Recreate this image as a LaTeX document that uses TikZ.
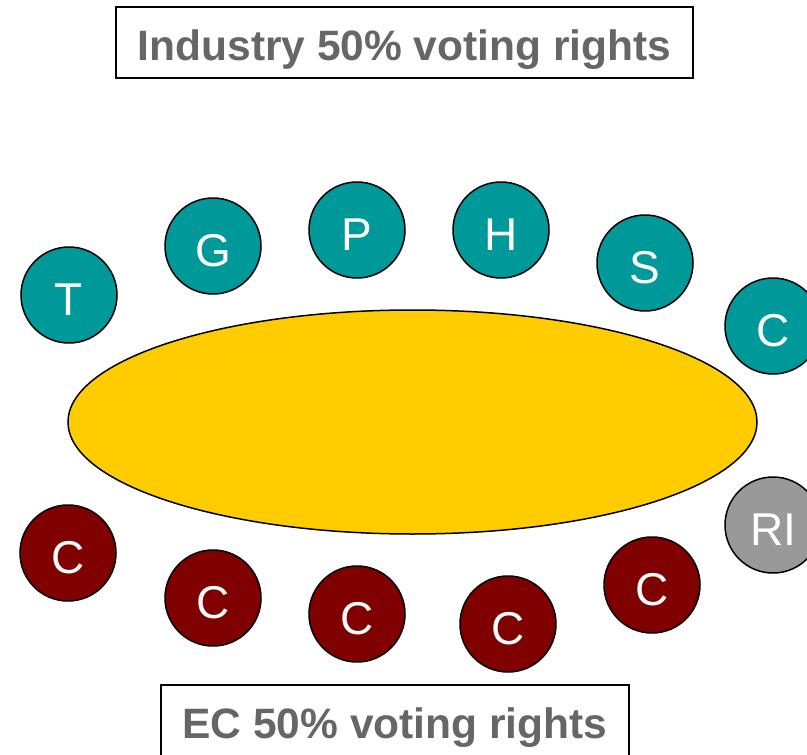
\documentclass[tikz,border=0pt]{standalone}
\usepackage{fontspec}
\setmainfont{Liberation Sans}
\usetikzlibrary{shapes.geometric}
\definecolor{teal1}{RGB}{0,153,153}
\definecolor{maroon1}{RGB}{128,0,0}
\definecolor{grey1}{RGB}{153,153,153}
\definecolor{gold1}{RGB}{255,204,0}
\definecolor{label1}{RGB}{102,102,102}
\begin{document}
\begin{tikzpicture}[x=1pt,y=-1pt,
  seat/.style={circle,draw=black,line width=1.5pt,minimum size=96pt,inner sep=0pt,
    text=white,text height=40pt,text depth=0pt,font=\fontsize{46}{50}\selectfont},
  ind/.style={seat,fill=teal1},
  ec/.style={seat,fill=maroon1},
  ri/.style={seat,fill=grey1},
  votebox/.style={draw=black,line width=1.5pt,fill=white,inner sep=0pt,minimum height=71pt,
    text height=35.4pt,text depth=0pt,
    text=label1,font=\fontsize{42.5}{50}\selectfont\bfseries}]
\useasboundingbox (0,0) rectangle (807,755);
\fill[white] (0,0) rectangle (807,755);
\node[votebox,minimum width=577pt] (industry) at (404.5,42.5) {Industry 50\% voting rights};
\node[ellipse,draw=black,line width=1.5pt,fill=gold1,minimum width=689pt,minimum height=224pt,inner sep=0pt] (table) at (412.5,422) {};
\node[ind] (t) at (69,295) {T};
\node[ind] (g) at (213,246) {G};
\node[ind] (p) at (357,230) {P};
\node[ind] (h) at (501,230) {H};
\node[ind] (s) at (645,263) {S};
\node[ind] (c0) at (773,326) {C};
\node[ri] (rinst) at (773,525) {RI};
\node[ec] (c1) at (68,553) {C};
\node[ec] (c2) at (213,598) {C};
\node[ec] (c3) at (357,614) {C};
\node[ec] (c4) at (508,624) {C};
\node[ec] (c5) at (652,585) {C};
\node[votebox,minimum width=468pt] (ec) at (395,720.5) {EC 50\% voting rights};
\end{tikzpicture}
\end{document}
